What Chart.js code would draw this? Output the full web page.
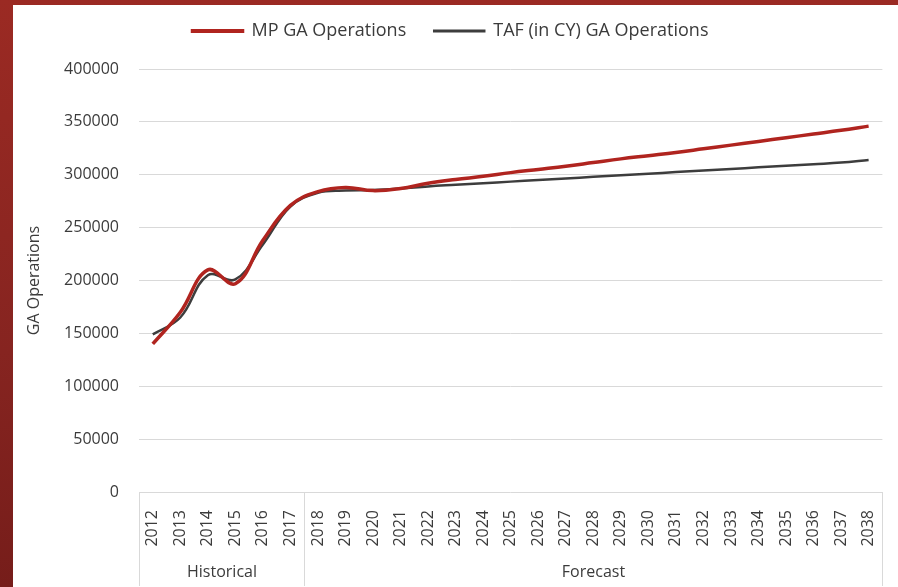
<!DOCTYPE html>
<html>
<head>
<meta charset="utf-8">
<script src="https://cdn.jsdelivr.net/npm/chart.js@4.4.1/dist/chart.umd.min.js"></script>
<style>
  html, body { margin: 0; padding: 0; }
  body {
    width: 898px; height: 587px; overflow: hidden;
    background: linear-gradient(180deg, #9b2a23 0%, #862420 60%, #761d1a 100%);
    position: relative;
  }
  #panel {
    position: absolute; left: 13px; top: 5px; width: 885px; height: 582px;
    background: #ffffff;
  }
</style>
</head>
<body>
<div id="panel"><canvas id="chart" width="885" height="582"></canvas></div>
<script>
// Datos
const years = ['2012', '2013', '2014', '2015', '2016', '2017', '2018', '2019', '2020',
  '2021', '2022', '2023', '2024', '2025', '2026', '2027', '2028', '2029', '2030',
  '2031', '2032', '2033', '2034', '2035', '2036', '2037', '2038'];

const mpOps = [140000, 170000, 210000, 197000, 238000, 271000, 284000, 288000, 285000,
  287000, 292000, 295500, 298500, 302000, 305000, 308000, 311500, 315000, 318000,
  321000, 324500, 328000, 331500, 335000, 338500, 342000, 346000];

const tafOps = [149000, 165000, 205000, 201000, 234000, 270000, 283000, 285000, 285500,
  287000, 289000, 290500, 292000, 293500, 295000, 296500, 298000, 299500, 301000,
  302500, 304000, 305500, 307000, 308500, 310000, 311500, 314000];

const groups = [
  { label: 'Historical', from: 0, to: 5 },
  { label: 'Forecast', from: 6, to: 26 }
];

const yTicks = [0, 50000, 100000, 150000, 200000, 250000, 300000, 350000, 400000];

const FONT = "'Open Sans', 'Noto Sans', sans-serif";
const TEXT = '#3b3b3b';
const GRID = '#d9d9d9';

// Caja del eje X con las etiquetas de grupo
const groupAxis = {
  id: 'groupAxis',
  afterDraw(chart) {
    const { ctx, chartArea, scales: { x } } = chart;
    const half = (x.getPixelForValue(1) - x.getPixelForValue(0)) / 2;
    const bottom = chart.height - 1;
    ctx.save();
    ctx.strokeStyle = GRID;
    ctx.lineWidth = 1;
    ctx.fillStyle = TEXT;
    ctx.font = '16px ' + FONT;
    ctx.textAlign = 'center';
    ctx.textBaseline = 'middle';
    groups.forEach((g, i) => {
      const left = Math.round(x.getPixelForValue(g.from) - half) + 0.5;
      const right = Math.round(x.getPixelForValue(g.to) + half) + 0.5;
      ctx.beginPath();
      if (i === 0) {
        ctx.moveTo(left, chartArea.bottom);
        ctx.lineTo(left, bottom);
      }
      ctx.moveTo(right, chartArea.bottom);
      ctx.lineTo(right, bottom);
      ctx.stroke();
      ctx.fillText(g.label, (left + right) / 2, chart.height - 15);
    });
    ctx.restore();
  }
};

// Espacio extra bajo la leyenda
const legendGap = {
  id: 'legendGap',
  beforeInit(chart) {
    const fit = chart.legend.fit;
    chart.legend.fit = function () {
      fit.bind(chart.legend)();
      this.height += 19;
    };
  }
};

new Chart(document.getElementById('chart'), {
  type: 'line',
  data: {
    labels: years,
    datasets: [
      {
        label: 'MP GA Operations',
        data: mpOps,
        borderColor: '#b0241f',
        backgroundColor: '#b0241f',
        borderWidth: 3.5,
        pointRadius: 0,
        tension: 0.4
      },
      {
        label: 'TAF (in CY) GA Operations',
        data: tafOps,
        borderColor: '#3d3d3d',
        backgroundColor: '#3d3d3d',
        borderWidth: 2.5,
        pointRadius: 0,
        tension: 0.4
      }
    ]
  },
  options: {
    responsive: false,
    animation: false,
    layout: { padding: { top: -11, right: 10, left: 0, bottom: 0 } },
    plugins: {
      legend: {
        position: 'top',
        labels: {
          font: { family: FONT, size: 18 },
          color: TEXT,
          boxWidth: 50,
          boxHeight: 0.5,
          padding: 28
        }
      },
      tooltip: { enabled: false }
    },
    scales: {
      x: {
        offset: true,
        grid: { display: false },
        border: { display: false },
        afterFit(scale) { scale.height = 95; },
        ticks: {
          font: { family: FONT, size: 16 },
          color: TEXT,
          minRotation: 90,
          maxRotation: 90,
          autoSkip: false,
          padding: 10
        }
      },
      y: {
        min: 0,
        max: 400000,
        afterFit(scale) { scale.width = 126; },
        afterBuildTicks(scale) { scale.ticks = yTicks.map(v => ({ value: v })); },
        grid: { color: GRID, drawTicks: false },
        border: { display: false },
        ticks: {
          font: { family: FONT, size: 16 },
          color: TEXT,
          padding: 20,
          callback: v => String(v)
        },
        title: {
          display: true,
          text: 'GA Operations',
          font: { family: FONT, size: 16 },
          color: TEXT,
          padding: { top: 12, bottom: 0 }
        }
      }
    }
  },
  plugins: [groupAxis, legendGap]
});
</script>
</body>
</html>
